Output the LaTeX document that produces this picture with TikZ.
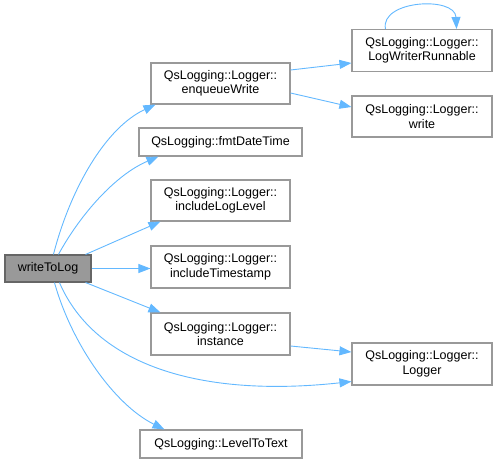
\documentclass[tikz,border=0pt]{standalone}
\usepackage{fontspec}
\setmainfont{Liberation Sans}
\usetikzlibrary{arrows.meta}
\definecolor{edgec}{HTML}{63B8FF}
\definecolor{boxc}{HTML}{999999}
\definecolor{rootb}{HTML}{666666}
\begin{document}
\begin{tikzpicture}[x=1pt,y=-1pt,
  fn/.style={draw=boxc,line width=1.1pt,fill=white,align=center,inner sep=0pt,
    font=\fontsize{12.5}{14.5}\selectfont,text=black},
  rootnode/.style={fn,fill=boxc,draw=rootb},
  call/.style={draw=edgec,line width=0.9pt,-{Triangle[length=12pt,width=9pt]},color=edgec}]
\useasboundingbox (0,0) rectangle (497,463);
\node[rootnode,minimum width=86pt,minimum height=27pt] (root) at (48,268.5) {writeToLog};
\node[fn,minimum width=139pt,minimum height=41pt] (enq) at (220.5,83.5) {QsLogging::Logger::\\enqueueWrite};
\node[fn,minimum width=163pt,minimum height=28pt] (fmt) at (220.5,142) {QsLogging::fmtDateTime};
\node[fn,minimum width=139pt,minimum height=41pt] (lvl) at (220.5,200.5) {QsLogging::Logger::\\includeLogLevel};
\node[fn,minimum width=139pt,minimum height=42pt] (ts) at (220.5,267) {QsLogging::Logger::\\includeTimestamp};
\node[fn,minimum width=139pt,minimum height=42pt] (inst) at (220.5,334) {QsLogging::Logger::\\instance};
\node[fn,minimum width=162pt,minimum height=28pt] (l2t) at (221,444) {QsLogging::LevelToText};
\node[fn,minimum width=140pt,minimum height=42pt] (lwr) at (422,50.5) {QsLogging::Logger::\\LogWriterRunnable};
\node[fn,minimum width=140pt,minimum height=41pt] (wr) at (422,116.5) {QsLogging::Logger::\\write};
\node[fn,minimum width=140pt,minimum height=42pt] (lg) at (422,364) {QsLogging::Logger::\\Logger};

\draw[call] ([xshift=49pt]root.north west) .. controls (70,190) and (105,128) .. ([xshift=5pt]enq.south west);
\draw[call] ([xshift=54pt]root.north west) .. controls (80,215) and (115,175) .. ([xshift=20pt]fmt.south west);
\draw[call] ([xshift=-6pt]root.north east) -- ([xshift=10pt]lvl.south west);
\draw[call] (root.east) -- (root.east -| ts.west);
\draw[call] ([xshift=-6pt]root.south east) -- ([xshift=10pt]inst.north west);
\draw[call] ([xshift=55pt]root.south west) .. controls (95,365) and (200,398) .. ([yshift=4pt]lg.south west);
\draw[call] ([xshift=50pt]root.south west) .. controls (72,345) and (115,405) .. ([xshift=25pt]l2t.north west);
\draw[call] ([yshift=13.5pt]enq.east) -- ([yshift=-12.5pt]lwr.west);
\draw[call] ([yshift=-9.5pt]enq.east) -- ([yshift=9.5pt]wr.west);
\draw[call] ([yshift=-12pt]inst.east) -- ([yshift=12pt]lg.west);
\draw[call] ([xshift=34pt]lwr.north west) .. controls (380,0) and (455,-4) .. ([xshift=-36pt]lwr.north east);
\end{tikzpicture}
\end{document}
